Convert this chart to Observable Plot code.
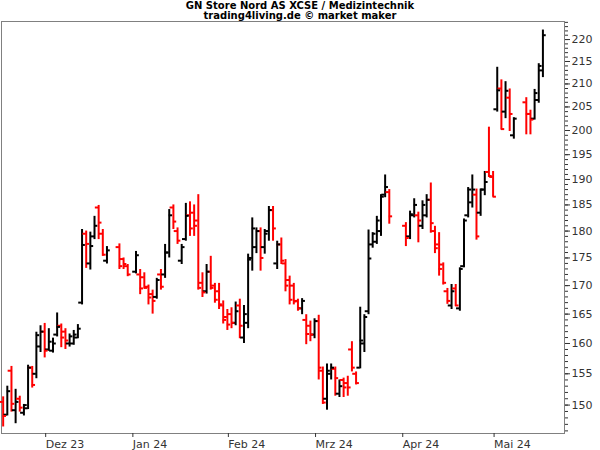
<!DOCTYPE html>
<html>
<head>
<meta charset="utf-8">
<script src="https://cdn.jsdelivr.net/npm/d3@7"></script>
<script src="https://cdn.jsdelivr.net/npm/@observablehq/plot@0.6"></script>
<style>
  body { margin: 0; background: #fff; }
  #wrap { position: relative; width: 600px; height: 450px; }
  #title { position: absolute; top: 1px; left: 0; width: 600px; text-align: center;
           font: bold 10px "DejaVu Sans", sans-serif; line-height: 10px; color: #000; }
</style>
</head>
<body>
<div id="wrap">
  <div id="chart"></div>
  <div id="title">GN Store Nord AS XCSE / Medizintechnik<br>trading4living.de © market maker</div>
</div>
<script>
const dates = [
 "2023-11-17","2023-11-20","2023-11-21","2023-11-22","2023-11-23","2023-11-24","2023-11-27","2023-11-28","2023-11-29","2023-11-30",
 "2023-12-01","2023-12-04","2023-12-05","2023-12-06","2023-12-07","2023-12-08","2023-12-11","2023-12-12","2023-12-13","2023-12-14",
 "2023-12-15","2023-12-18","2023-12-19","2023-12-20","2023-12-21","2023-12-22","2023-12-27","2023-12-28","2023-12-29",
 "2024-01-02","2024-01-03","2024-01-04","2024-01-05","2024-01-08","2024-01-09","2024-01-10","2024-01-11","2024-01-12",
 "2024-01-15","2024-01-16","2024-01-17","2024-01-18","2024-01-19","2024-01-22","2024-01-23","2024-01-24","2024-01-25","2024-01-26",
 "2024-01-29","2024-01-30","2024-01-31","2024-02-01","2024-02-02","2024-02-05","2024-02-06","2024-02-07","2024-02-08","2024-02-09",
 "2024-02-12","2024-02-13","2024-02-14","2024-02-15","2024-02-16","2024-02-19","2024-02-20","2024-02-21","2024-02-22","2024-02-23",
 "2024-02-26","2024-02-27","2024-02-28","2024-02-29","2024-03-01","2024-03-04","2024-03-05","2024-03-06","2024-03-07","2024-03-08",
 "2024-03-11","2024-03-12","2024-03-13","2024-03-14","2024-03-15","2024-03-18","2024-03-19","2024-03-20","2024-03-21","2024-03-22",
 "2024-03-25","2024-03-26","2024-03-27","2024-04-02","2024-04-03","2024-04-04","2024-04-05","2024-04-08","2024-04-09","2024-04-10",
 "2024-04-11","2024-04-12","2024-04-15","2024-04-16","2024-04-17","2024-04-18","2024-04-19","2024-04-22","2024-04-23","2024-04-24",
 "2024-04-25","2024-04-26","2024-04-29","2024-04-30","2024-05-01","2024-05-02","2024-05-03","2024-05-06","2024-05-07","2024-05-08",
 "2024-05-13","2024-05-14","2024-05-15","2024-05-16","2024-05-17"
];
const open = [
 150.5,148.5,155.5,149.2,151,148.8,149.5,156,155,159.5,
 162,159,158.8,161.5,163,162,160,160,161,167,
 179.5,174,179,184.5,179.5,174.5,177,174.8,173.5,
 172.5,172,171.5,169.8,168.5,168,172,172,176,
 184.5,180,174.5,178.5,183,183.5,182,170.5,169,172.5,
 170,169,166.5,164.5,165,163.5,166.5,161,163.5,175,
 177,180,177,180,184,174,177.5,174,171,170,
 167.3,166,164,163,161.5,163.8,155.5,151,155,155.8,
 151.8,154,153.5,159,155,156,160,165.5,177.5,178,
 180,187,187.5,181,179,183,183,181,183,186,
 180,177.5,173.8,169,166.5,169.5,166,173.5,183,185.5,
 187,183.5,188,191.5,190.5,204.5,209,204,207,199,
 206,203.5,202.5,206.5,213
];
const high = [
 151.3,153,156.2,152.5,151.4,150.1,156.4,156.2,161.9,163,
 163.4,162.5,160.9,165.2,163.3,162.5,161.6,162.2,163.2,180.3,
 180,179.8,182.8,184.9,180.3,177.1,177.6,175,173.8,
 176.2,172.9,172.3,170.1,169.2,171.3,172.9,177.5,184.1,
 185,180.6,177.5,185.3,185.6,185,187,172.3,173.8,175.3,
 170.4,170.4,167.3,165.8,166.1,167.1,167.6,166.5,175.7,182.5,
 180.6,180.6,180.3,184.7,184.7,178.1,178.7,174.7,171.7,170.4,
 167.6,167.7,164.9,163.8,164.2,164.8,156.1,156.6,156.6,156.1,
 154,154.3,154.6,160.3,155.3,166.2,164.9,180.2,179.7,182.8,
 187,190.9,188,181.6,183.8,186.2,183.6,185.8,187,189.3,
 180.9,179.7,174.1,169.5,170.2,170.2,173.2,182.3,188.4,190.9,
 188.1,188.1,191.6,200.7,191.6,213.7,210.9,210.5,208.9,202.7,
 207,204.3,208.8,214.5,222.2
];
const low = [
 146.6,148.3,148.9,147.1,148.9,148.3,149.3,152.7,154.2,158.5,
 157.6,158.7,158.4,161.1,159.3,159,159.4,159.7,160.8,166.6,
 173.1,172.8,178.4,178.4,175.3,173.9,172.9,172.9,171.6,
 172.1,168.4,169.4,166.6,165,167.6,169.2,171.3,175,
 180.3,177.5,173.8,178.1,179,179,169.2,167.9,168.5,169.2,
 166.9,165.8,163.3,162.2,162.5,163,160.8,160,162.5,172.6,
 175.8,172.6,175.7,178.1,178.1,172.9,173.8,168.9,166.6,166.6,
 165.5,164.9,159.8,160.3,160.8,154,150.1,149.2,154,151.4,
 151.2,151.2,151.4,155.3,153.2,155.8,158.5,164.9,176.8,177.5,
 179,186.4,181.3,177.1,178.4,182.5,177.8,180.3,182.5,179.6,
 175.8,171.7,170.1,166.7,165.8,166.3,165.5,173.2,182.5,184.4,
 178.3,182.8,186.8,190.4,186.5,203.9,200.1,202.5,199.8,198.2,
 199.1,199.1,202.2,205.8,211.4
];
const close = [
 148.3,152.2,150.2,150.5,149.6,150,156,153.2,161.4,162,
 158.8,160.3,160,162.8,161,160.5,161.2,161.5,162.5,177.4,
 177.6,177.2,181,181.6,175.6,176.4,173.5,173.9,172,
 175.5,169.5,169.6,167.9,167.3,171,169.8,176,183,
 181.8,178.2,177,182.9,180.5,181,169.6,168.8,172.5,169.6,
 167.5,166.7,164,163.2,163.5,165.5,163,165,174.7,180.5,
 180,175,179.5,184,180.5,177.5,174.5,170,167.5,167.2,
 166,167.3,161.6,161.5,163.8,156,150.4,155.5,156,154.3,
 153,152.8,152.8,156,153.5,160.5,164.5,174.9,179.5,182,
 186.6,188.5,182.8,178.7,183.2,185,182,185,186,181.5,
 176.8,173,170.5,167.3,169,166.5,173,182,188,188,
 179,188,189.5,190.7,186.6,208.6,200.3,208.5,203.5,202.5,
 203.5,202.3,208,214,221
];
const monthStarts = ["2023-12-01","2024-01-01","2024-02-01","2024-03-01","2024-04-01","2024-05-01"];
const monthLabels = ["Dez 23","Jan 24","Feb 24","Mrz 24","Apr 24","Mai 24"];
const yTicks = [150,155,160,165,170,175,180,185,190,195,200,205,210,215,220];

// weekday index since first date (weekends skipped, holidays left as gaps)
const t0 = Date.UTC(2023, 10, 17);
function wd(s) {
  const t = Date.parse(s + "T00:00:00Z");
  let n = 0;
  for (let d = t0; d < t; d += 86400000) {
    const w = new Date(d).getUTCDay();
    if (w !== 0 && w !== 6) n++;
  }
  return n;
}

const data = dates.map((d, k) => ({
  i: wd(d), open: open[k], high: high[k], low: low[k], close: close[k],
  col: close[k] < open[k] ? "#ff0000" : "#000000"
}));
const monthIdx = monthStarts.map(wd);
const labelOf = new Map(monthIdx.map((v, k) => [v, monthLabels[k]]));

const chart = Plot.plot({
  width: 600,
  height: 450,
  marginTop: 21,
  marginBottom: 17,
  marginLeft: 1,
  marginRight: 36,
  style: { fontFamily: "DejaVu Sans, sans-serif", fontSize: "11px", color: "#000", background: "#fff" },
  x: { type: "linear", domain: [-0.4, 135.2], axis: null },
  y: { type: "log", domain: [145.6, 224.2], axis: null },
  marks: [
    Plot.frame({ stroke: "#808080" }),
    Plot.ruleX(data, { x: "i", y1: "low", y2: "high", stroke: "col", strokeWidth: 2 }),
    Plot.ruleY(data, { y: "open", x1: d => d.i - 0.8, x2: "i", stroke: "col", strokeWidth: 2 }),
    Plot.ruleY(data, { y: "close", x1: "i", x2: d => d.i + 0.8, stroke: "col", strokeWidth: 2 }),
    Plot.axisY({ anchor: "right", ticks: d3.range(146, 225), tickSize: 3, text: null, stroke: "#333" }),
    Plot.axisY({ anchor: "right", ticks: yTicks, tickSize: 5, tickPadding: 2, tickFormat: d => String(d), fill: "#333", stroke: "#333", fontSize: 11, label: null }),
    Plot.axisX({ anchor: "bottom", ticks: monthIdx, tickSize: 4, tickPadding: 3, tickFormat: d => labelOf.get(d), textAnchor: "start", dx: 1, fill: "#333", stroke: "#333", fontSize: 11, label: null })
  ]
});
document.getElementById("chart").appendChild(chart);
</script>
</body>
</html>
